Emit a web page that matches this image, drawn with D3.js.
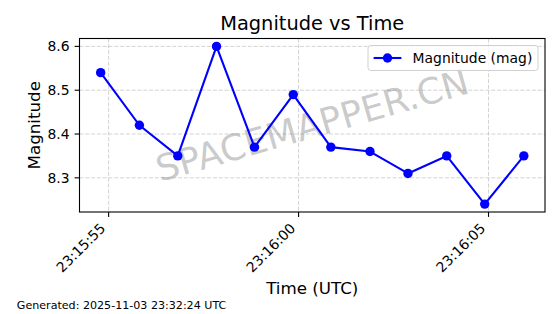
<!DOCTYPE html>
<html>
<head>
<meta charset="utf-8">
<script src="https://cdn.jsdelivr.net/npm/d3@7"></script>
<style>
  html, body { margin: 0; padding: 0; background: #fff; }
  svg { display: block; font-family: "DejaVu Sans", sans-serif; }
</style>
</head>
<body>
<div id="chart"></div>
<script>
// data
let times = [
  "2025-11-03T23:15:54.790Z", "2025-11-03T23:15:55.810Z", "2025-11-03T23:15:56.820Z",
  "2025-11-03T23:15:57.840Z", "2025-11-03T23:15:58.840Z", "2025-11-03T23:15:59.860Z",
  "2025-11-03T23:16:00.850Z", "2025-11-03T23:16:01.880Z", "2025-11-03T23:16:02.880Z",
  "2025-11-03T23:16:03.900Z", "2025-11-03T23:16:04.900Z", "2025-11-03T23:16:05.930Z"
];
let magnitudes = [8.54, 8.42, 8.35, 8.60, 8.37, 8.49, 8.37, 8.36, 8.31, 8.35, 8.24, 8.35];
let yTicks = [8.3, 8.4, 8.5, 8.6];
let titleText = "Magnitude vs Time";
let xLabel = "Time (UTC)";
let yLabel = "Magnitude";
let legendLabel = "Magnitude (mag)";
let watermark = "SPACEMAPPER.CN";
let footer = "Generated: 2025-11-03 23:32:24 UTC";

let width = 560;
let height = 314;
let blue = "#0000ff";

let svg = d3.select("#chart").append("svg")
  .attr("width", width)
  .attr("height", height);

// axes box, same as the matplotlib one
let plot = { left: 79.5, right: 545, top: 38.5, bottom: 212 };
let plotW = plot.right - plot.left;
let plotH = plot.bottom - plot.top;

let data = times.map((t, i) => ({ date: new Date(t), mag: magnitudes[i] }));

// 5% margins like matplotlib
let xExt = d3.extent(data, d => d.date.getTime());
let xPad = (xExt[1] - xExt[0]) * 0.05;
let xScale = d3.scaleUtc()
  .domain([new Date(xExt[0] - xPad), new Date(xExt[1] + xPad)])
  .range([0, plotW]);

let yExt = d3.extent(data, d => d.mag);
let yPad = (yExt[1] - yExt[0]) * 0.05;
let yScale = d3.scaleLinear()
  .domain([yExt[0] - yPad, yExt[1] + yPad])
  .range([plotH, 0]);

let g = svg.append("g").attr("transform", `translate(${plot.left},${plot.top})`);

let xTicks = xScale.ticks(d3.utcSecond.every(5));
let fmt = d3.utcFormat("%H:%M:%S");

// grid
let grid = g.append("g").attr("stroke", "#b0b0b0").attr("stroke-opacity", 0.7)
  .attr("stroke-width", 0.8).attr("stroke-dasharray", "4,1.8");
grid.selectAll(".gx").data(xTicks).enter().append("line")
  .attr("x1", d => xScale(d)).attr("x2", d => xScale(d))
  .attr("y1", 0).attr("y2", plotH);
grid.selectAll(".gy").data(yTicks).enter().append("line")
  .attr("x1", 0).attr("x2", plotW)
  .attr("y1", d => yScale(d)).attr("y2", d => yScale(d));

// watermark in the middle of the axes
g.append("text")
  .attr("transform", `translate(${plotW / 2},${plotH / 2}) rotate(-16)`)
  .attr("text-anchor", "middle")
  .attr("dominant-baseline", "central")
  .attr("font-size", 36)
  .attr("fill", "#808080")
  .attr("fill-opacity", 0.42)
  .text(watermark);

// line + markers
let line = d3.line().x(d => xScale(d.date)).y(d => yScale(d.mag));
g.append("path").datum(data)
  .attr("d", line)
  .attr("fill", "none")
  .attr("stroke", blue)
  .attr("stroke-width", 2.1)
  .attr("stroke-linejoin", "round");
g.selectAll(".pt").data(data).enter().append("circle")
  .attr("cx", d => xScale(d.date))
  .attr("cy", d => yScale(d.mag))
  .attr("r", 4.7)
  .attr("fill", blue);

// spines
g.append("rect").attr("x", 0).attr("y", 0).attr("width", plotW).attr("height", plotH)
  .attr("fill", "none").attr("stroke", "#000").attr("stroke-width", 1.1);

// x ticks
let xt = g.append("g").attr("transform", `translate(0,${plotH})`);
xt.selectAll("line").data(xTicks).enter().append("line")
  .attr("x1", d => xScale(d)).attr("x2", d => xScale(d))
  .attr("y1", 0).attr("y2", 4.9)
  .attr("stroke", "#000").attr("stroke-width", 1.1);
xt.selectAll("text").data(xTicks).enter().append("text")
  .attr("transform", d => `translate(${xScale(d) - 2.3},17.2) rotate(-45)`)
  .attr("text-anchor", "end")
  .attr("font-size", 13.9)
  .attr("fill", "#000")
  .text(d => fmt(d));

// y ticks
let yt = g.append("g");
yt.selectAll("line").data(yTicks).enter().append("line")
  .attr("x1", -4.9).attr("x2", 0)
  .attr("y1", d => yScale(d)).attr("y2", d => yScale(d))
  .attr("stroke", "#000").attr("stroke-width", 1.1);
yt.selectAll("text").data(yTicks).enter().append("text")
  .attr("x", -10)
  .attr("y", d => yScale(d) + 5)
  .attr("text-anchor", "end")
  .attr("font-size", 13.9)
  .attr("fill", "#000")
  .text(d => d3.format(".1f")(d));

// titles
svg.append("text")
  .attr("x", plot.left + plotW / 2).attr("y", 30)
  .attr("text-anchor", "middle").attr("font-size", 19.4)
  .text(titleText);
svg.append("text")
  .attr("x", plot.left + plotW / 2).attr("y", 294)
  .attr("text-anchor", "middle").attr("font-size", 16.7)
  .text(xLabel);
svg.append("text")
  .attr("transform", `translate(39.5,${plot.top + plotH / 2}) rotate(-90)`)
  .attr("text-anchor", "middle").attr("font-size", 16.7)
  .text(yLabel);
svg.append("text")
  .attr("x", 16.8).attr("y", 308.8)
  .attr("font-size", 11.1)
  .text(footer);

// legend, upper right
let leg = { x: 368, y: 45.5, w: 170, h: 25 };
let legend = svg.append("g").attr("transform", `translate(${leg.x},${leg.y})`);
legend.append("rect")
  .attr("width", leg.w).attr("height", leg.h)
  .attr("rx", 2.8)
  .attr("fill", "#fff").attr("fill-opacity", 0.8)
  .attr("stroke", "#d0d0d0").attr("stroke-width", 1);
legend.append("line")
  .attr("x1", 5.6).attr("x2", 33.4)
  .attr("y1", leg.h / 2).attr("y2", leg.h / 2)
  .attr("stroke", blue).attr("stroke-width", 2.1);
legend.append("circle")
  .attr("cx", 19.5).attr("cy", leg.h / 2).attr("r", 4.7)
  .attr("fill", blue);
legend.append("text")
  .attr("x", 44.6).attr("y", 17.2)
  .attr("font-size", 13.9)
  .text(legendLabel);
</script>
</body>
</html>
